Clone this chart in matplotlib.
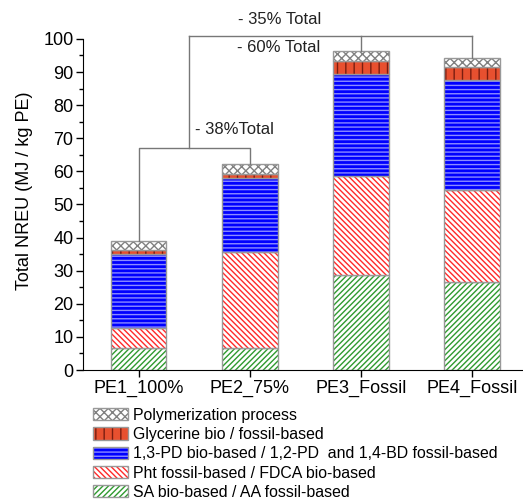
import numpy as np
import matplotlib.pyplot as plt

plt.rcParams['font.family'] = ['Liberation Sans', 'DejaVu Sans']
plt.rcParams['hatch.linewidth'] = 1.0

# data (MJ / kg PE)
samples = ["PE1_100%", "PE2_75%", "PE3_Fossil", "PE4_Fossil"]
sa_aa = [6.5, 6.5, 28.7, 26.6]
pht_fdca = [6.2, 29.2, 29.8, 27.9]
pd_bd = [22.3, 22.3, 30.8, 33.1]
glycerine = [1.2, 1.2, 4.1, 3.8]
polymerization = [2.8, 3.0, 2.9, 2.9]

labels = ["SA bio-based / AA fossil-based",
          "Pht fossil-based / FDCA bio-based",
          "1,3-PD bio-based / 1,2-PD  and 1,4-BD fossil-based",
          "Glycerine bio / fossil-based",
          "Polymerization process"]
segments = [sa_aa, pht_fdca, pd_bd, glycerine, polymerization]
faces = ["white", "white", "#0000ff", "#e8502f", "white"]
hatch_colors = ["#2f9a2f", "#ff2a2a", "#8c8cff", "#7a1d10", "#808080"]
hatches = ["//////", "\\\\\\\\\\\\", "----", "||", "xxxx"]

fig = plt.figure(figsize=(5.23, 4.99), dpi=100)
ax = fig.add_axes([0.159, 0.2585, 0.843, 0.6635])

x = np.arange(len(samples))
width = 0.5
bottom = np.zeros(len(samples))
handles = []
for vals, fc, hc, h, lab in zip(segments, faces, hatch_colors, hatches, labels):
    b1 = ax.bar(x, vals, width, bottom=bottom, color=fc, edgecolor=hc, hatch=h, lw=0)
    b2 = ax.bar(x, vals, width, bottom=bottom, fill=False, edgecolor="#999999", lw=1)
    handles.append((b1[0], b2[0]))
    bottom = bottom + np.array(vals)
totals = bottom

ax.set_xlim(-0.5, 3.47)
ax.set_ylim(0, 100)
ax.set_yticks(np.arange(0, 101, 10))
ax.set_yticks(np.arange(5, 100, 10), minor=True)
ax.set_xticks(x)
ax.set_xticklabels(samples)
ax.tick_params(axis='both', labelsize=13, direction='out', length=5, width=1, pad=2)
ax.tick_params(axis='y', which='minor', length=3, width=1)
ax.spines['top'].set_visible(False)
ax.spines['right'].set_visible(False)
ax.set_ylabel("Total NREU (MJ / kg PE)", fontsize=13)
ax.yaxis.set_label_coords(-0.113, 0.54)

# comparison brackets
lc = "#777777"
lkw = dict(color=lc, lw=1, clip_on=False)
y1 = 67
ax.plot([x[0], x[0], x[1], x[1]], [totals[0], y1, y1, totals[1]], **lkw)
xm = 0.45
y2 = 101
ax.plot([xm, xm], [y1, y2], **lkw)
ax.plot([xm, x[3]], [y2, y2], **lkw)
ax.plot([x[2], x[2]], [y2, totals[2]], **lkw)
ax.plot([x[3], x[3]], [y2, totals[3]], **lkw)
ax.text(0.86, 72.5, "- 38%Total", fontsize=12, ha='center', va='center', color="#222222")
ax.text(1.26, 97.3, "- 60% Total", fontsize=12, ha='center', va='center', color="#222222")
ax.text(1.27, 106, "- 35% Total", fontsize=12, ha='center', va='center', color="#222222", clip_on=False)

leg = fig.legend(handles[::-1], labels[::-1], loc='upper left',
                 bbox_to_anchor=(0.178, 0.183), frameon=False, fontsize=11.4,
                 handlelength=2.2, handleheight=0.8, handletextpad=0.3,
                 labelspacing=0.27, borderpad=0, borderaxespad=0)

fig.savefig("out.png", dpi=100)
